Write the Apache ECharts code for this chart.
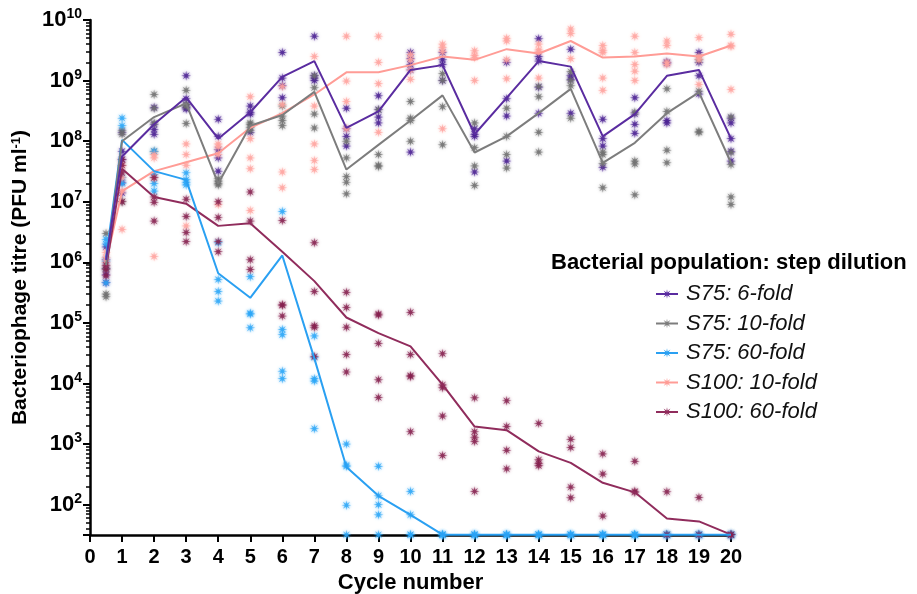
<!DOCTYPE html>
<html><head><meta charset="utf-8">
<script src="https://cdn.jsdelivr.net/npm/echarts@6/dist/echarts.min.js"></script>
<style>html,body{margin:0;padding:0;background:#fff}#c{width:917px;height:594px}</style>
</head><body><div id="c"></div>
<script>
// ---- Data ----
const cycles = [0.5,1,2,3,4,5,6,7,8,9,10,11,12,13,14,15,16,17,18,19,20];
const xTicks = [0,1,2,3,4,5,6,7,8,9,10,11,12,13,14,15,16,17,18,19,20];
const yDecades = [2,3,4,5,6,7,8,9,10];
const seriesNames = ['S75: 6-fold','S75: 10-fold','S75: 60-fold','S100: 10-fold','S100: 60-fold'];
const legendTitle = 'Bacterial population: step dilution';

// means (lines)
const s75_6_mean  = [1.1e6,5.6e7,1.9e8,5.3e8,1.1e8,3.0e8,1.15e9,2.1e9,1.66e8,3.1e8,1.5e9,1.8e9,1.3e8,5.2e8,2.1e9,1.7e9,1.2e8,2.8e8,1.2e9,1.5e9,1.1e8];
const s75_10_mean = [9e5,1.0e8,2.5e8,4.2e8,2.0e7,1.8e8,2.7e8,6.5e8,3.4e7,8.7e7,2.2e8,5.7e8,6.5e7,1.2e8,2.9e8,7.3e8,4.4e7,9.4e7,2.9e8,6.4e8,4.4e7];
const s75_60_mean = [1.2e6,1.05e8,3.2e7,2.3e7,6.6e5,2.6e5,1.3e6,2.6e4,4.2e2,1.4e2,68,32,32,32,32,32,32,32,32,32,32];
const s100_10_mean= [1.0e6,1.5e7,3.2e7,4.5e7,6.3e7,1.66e8,2.9e8,5.9e8,1.37e9,1.37e9,1.8e9,2.5e9,2.2e9,3.3e9,2.8e9,4.5e9,2.4e9,2.5e9,2.8e9,2.5e9,3.8e9];
const s100_60_mean= [8e5,3.5e7,1.2e7,9.3e6,4.0e6,4.4e6,1.5e6,4.9e5,1.23e5,6.8e4,4.1e4,9.6e3,1.95e3,1.7e3,7.6e2,4.9e2,2.3e2,1.6e2,59,53,32];

// replicates (points), one list per cycle
const s75_6_reps = [
 [1.8e6,1.1e6,6.3e5,4.6e5,8e5],[1.4e8,6.8e7,5e7,2.1e7,1.4e7],[3.6e8,1.9e8,1.55e8,1.3e8],[1.2e9,5e8,4e8,3.6e8,3.4e8],
 [2.3e8,1.2e8,7.2e7,5.3e7,3.2e7],[3.8e8,3e8,2.8e8,1.4e8],[2.9e9,1.1e9,8.2e8,5.2e8],[5.4e9,1.2e9,1.1e9,1.0e9],
 [3.5e8,1.6e8,1.2e8,8.3e7],[5.6e8,3.3e8,2.5e8,2e8],[2.9e9,2.3e9,1.85e9,1.5e9,6.6e7],[2.9e9,2.2e9,1.85e9,1.0e9],
 [1.6e8,1.3e8,1.2e8,3.1e7],[2e9,5e8,2.6e8,4.7e7],[4.9e9,2.5e9,2.1e9,7.8e8,2.9e8],[3.3e9,1.2e9,1.05e9,2.9e8],
 [2.3e8,1.1e8,8.3e7,3.7e7],[5.2e8,2.8e8,1.9e8,1.35e8],[2.0e9,1.95e9,2.2e8,2.0e8],[2.9e9,2.0e9,1.2e9,6e8],
 [2.4e8,2e8,1.1e8,6.8e7,4.7e7]];
const s75_10_reps = [
 [3e6,8e5,3e5,2.7e5],[1.5e8,1.3e8,1.0e7],[5.9e8,3.5e8,2e8,6.8e7],[6.9e8,4e8,3.8e8,1.95e8],
 [2.4e7,2.2e7,2.0e7,1.9e7],[2e8,1.9e8,1.7e8,1.5e8],[3.8e8,2.6e8,2.2e8,1.8e8],[1.2e9,7.6e8,2.8e8,1.65e8],
 [1e8,5.3e7,2.6e7,2.1e7,1.35e7],[3.3e8,6e7,4e7,3.8e7],[4.5e8,2.4e8,2.2e8,1e8],[1.3e9,1.0e9,3.7e8,8.7e7],
 [2e8,7.8e7,3.9e7,1.85e7],[3.5e8,1.2e8,6e7,3.6e7],[8e8,5.4e8,1.4e8,6.6e7],[1.4e9,1e9,8.2e8,2.4e8],
 [6.6e7,6e7,4.3e7,1.7e7],[3e8,4.7e7,4.2e7,1.3e7],[7.3e8,3.1e8,7.1e7,4.4e7],[2.2e9,6.7e8,1.45e8,1.4e8],
 [2.5e8,6.5e7,4.1e7,1.2e7,9e6]];
const s75_60_reps = [
 [2.4e6,2e6,1.05e6,4.6e5],[2.4e8,1.8e8,2.5e7,2e7],[6.8e7,2.8e7,2e7,1.5e7],[3e7,2.3e7,2.1e7,1.9e7],
 [2.1e6,5.2e5,3.3e5,2.3e5],[5.8e5,1.45e5,1.4e5,8.3e4],[6.9e6,7.8e4,6.4e4,1.6e4,1.2e4],[6.1e4,2.7e4,1.2e4,1.1e4,1.8e3],
 [1.0e3,4.5e2,4.3e2,98,32],[430,140,100,68,32],[166,68,32,32],[32,32,32,32],
 [32,32,32,32],[32,32,32,32],[32,32,32,32],[32,32,32,32],
 [32,32,32,32],[32,32,32,32],[32,32,32,32],[32,32,32,32],[32,32,32,32]];
const s100_10_reps = [
 [1.45e6,1.2e6,1e6],[4e7,2.5e7,1.5e7,3.5e6],[6e7,5.3e7,2.5e7,1.25e6],[9e7,6e7,4e7,4e6],
 [9e7,8e7,6e7,9e6],[5.4e8,1.1e8,5.3e7,3.5e7,7.2e6],[8e8,4e8,3.1e7,1.7e7],[2.5e9,3.8e8,9e7,4.8e7,3.4e7],
 [5.4e9,9.8e8,4.5e8,1.6e8],[5.4e9,2e9,8.9e8,1.4e8],[2.7e9,2.2e9,1.5e9,1.05e9],[4e9,3.5e9,3e9,1.6e8],
 [3.1e9,2.6e9,2.4e9,1.0e9],[5e9,4.5e9,2.2e9,1.07e9],[4e9,3.2e9,3e9,1.1e9],[7.1e9,6e9,2.3e9],
 [3.8e9,3.1e9,2.9e9,1.1e9,6.9e8],[5.4e9,2.9e9,1.85e9,1.43e9,1.0e9],[4.5e9,3.8e9,2e9,1.85e9],[5.1e9,2.5e9,2.2e9,8.6e8],
 [5.8e9,3.8e9,3.7e9,7.1e8]];
const s100_60_reps = [
 [9e5,7.6e5,6e5],[5e7,4e7,3e7,1e7],[2.5e7,1.2e7,9.8e6,4.8e6],[1.1e7,5.7e6,3.1e6,2.2e6],
 [1e7,5.5e6,2.2e6,1.5e6],[1.45e7,4.8e6,1.1e6,7.6e5],[4.9e6,2e5,1.95e5,1.3e5],[2.1e6,3.3e5,9e4,8.5e4,2.8e4],
 [3.2e5,1.8e5,8.5e4,3e4,1.55e4],[1.4e5,1.35e5,4.6e4,1.15e4,5.9e3],[1.5e5,3e4,1.35e4,1.3e4,1.6e3],[3.1e4,9.5e3,8.5e3,2.9e3,6.5e2],
 [5.8e3,1.6e3,1.3e3,1.1e3,166],[5.2e3,1.95e3,7.9e2,3.9e2],[2.2e3,5.5e2,4.8e2,4.4e2],[1.2e3,8.8e2,1.95e2,1.3e2],
 [6.9e2,3.2e2,65],[5.2e2,1.66e2,1.6e2],[1.63e2,32],[1.32e2,32],[32,32]];

// ---- Styles ----
const lineColors = ['#5a2ca0','#7d7d7d','#2aa0f2','#ff9c96','#902c5c'];
const dotColors  = ['#4a1f92','#6f6f6f','#2aa6f8','#ffa39e','#86204f'];
const FONT = "'Liberation Sans', Arial, Helvetica, sans-serif";

// asterisk-like 8-point star symbol
function starPath(){
  const pts=[];
  for(let k=0;k<16;k++){const a=k*Math.PI/8-Math.PI/2;const r=(k%2===0)?10:3.2;pts.push((r*Math.cos(a)).toFixed(2)+' '+(r*Math.sin(a)).toFixed(2));}
  return 'path://M'+pts.join(' L')+' Z';
}
const STAR = starPath();

const means = [s75_6_mean,s75_10_mean,s75_60_mean,s100_10_mean,s100_60_mean];
const reps  = [s75_6_reps,s75_10_reps,s75_60_reps,s100_10_reps,s100_60_reps];

const series = [];
reps.forEach((r,i)=>{
  const pts=[];
  r.forEach((list,ci)=>list.forEach(v=>pts.push([cycles[ci],v])));
  series.push({type:'scatter',name:seriesNames[i]+' (replicates)',data:pts,symbol:STAR,symbolSize:10,
    itemStyle:{color:dotColors[i],opacity:0.8,shadowBlur:3,shadowColor:dotColors[i]},z:2,silent:true});
});
const lineOrder=[3,4,2,1,0];
lineOrder.forEach(i=>{
  series.push({type:'line',name:seriesNames[i],data:cycles.map((c,ci)=>[c,means[i][ci]]),
    showSymbol:false,symbol:STAR,symbolSize:10,lineStyle:{color:lineColors[i],width:2},
    itemStyle:{color:lineColors[i]},z:5,silent:true});
});

const chart = echarts.init(document.getElementById('c'));
chart.setOption({
  animation:false,
  backgroundColor:'#fff',
  textStyle:{fontFamily:FONT},
  title:{text:legendTitle,left:551,top:252,padding:0,textStyle:{fontFamily:FONT,fontSize:22,fontWeight:'bold',color:'#000'}},
  legend:{data:seriesNames,orient:'vertical',left:655,top:283,padding:0,itemWidth:22,itemHeight:12,itemGap:7.5,
    textStyle:{fontFamily:FONT,fontSize:22,fontStyle:'italic',color:'#111',padding:[0,0,0,3]}},
  grid:{left:90,right:186,top:20,bottom:59,containLabel:false,outerBoundsMode:'none'},
  xAxis:{type:'value',min:0,max:20,interval:1,
    name:'Cycle number',nameLocation:'middle',nameGap:36,
    nameTextStyle:{fontFamily:FONT,fontSize:22,fontWeight:'bold',color:'#000'},
    axisLine:{show:true,onZero:false,lineStyle:{color:'#000',width:2.5}},
    axisTick:{show:true,length:7,lineStyle:{color:'#000',width:2}},
    splitLine:{show:false},
    axisLabel:{fontFamily:FONT,fontSize:20,fontWeight:'bold',color:'#000',margin:12,
      formatter:v=>xTicks.indexOf(v)>=0?String(v):''}},
  yAxis:{type:'log',logBase:10,min:Math.pow(10,1.5),max:1e10,
    name:'Bacteriophage titre (PFU ml{s|-1})',nameLocation:'middle',nameGap:55,
    nameTextStyle:{fontFamily:FONT,fontSize:21,fontWeight:'bold',color:'#000',
      rich:{s:{fontFamily:FONT,fontSize:13,fontWeight:'bold',color:'#000',verticalAlign:'top',lineHeight:13}}},
    axisLine:{show:true,lineStyle:{color:'#000',width:2.5}},
    axisTick:{show:true,length:7,lineStyle:{color:'#000',width:2}},
    minorTick:{show:true,splitNumber:9,length:4,lineStyle:{color:'#000',width:1.5}},
    splitLine:{show:false},
    axisLabel:{margin:8,color:'#000',
      formatter:function(v){const e=Math.log10(v);const r=Math.round(e);
        if(Math.abs(e-r)>0.01||yDecades.indexOf(r)<0)return '';return '{b|10}{s|'+r+'}';},
      rich:{b:{fontFamily:FONT,fontSize:22,fontWeight:'bold',color:'#000',lineHeight:25},
            s:{fontFamily:FONT,fontSize:14,fontWeight:'bold',color:'#000',verticalAlign:'top',lineHeight:14}}}},
  series:series
});
</script></body></html>
